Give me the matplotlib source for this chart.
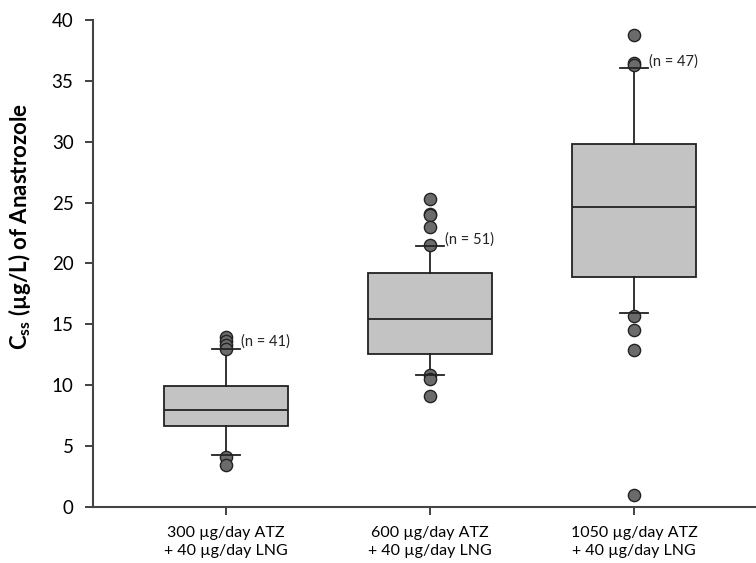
import matplotlib.pyplot as plt

plt.rcParams['font.family'] = ['Lato', 'DejaVu Sans']
plt.rcParams['mathtext.default'] = 'regular'

# 数据
groups = ["300 µg/day ATZ\n+ 40 µg/day LNG",
          "600 µg/day ATZ\n+ 40 µg/day LNG",
          "1050 µg/day ATZ\n+ 40 µg/day LNG"]
n_labels = ["(n = 41)", "(n = 51)", "(n = 47)"]
n_label_y = [13.6, 22.0, 36.6]
q1 = [6.65, 12.55, 18.9]
med = [7.97, 15.4, 24.6]
q3 = [9.94, 19.2, 29.8]
whis_lo = [4.27, 10.8, 15.9]
whis_hi = [12.95, 21.4, 36.05]
fliers = [[13.96, 13.6, 13.3, 13.0, 4.1, 3.45],
          [25.3, 24.1, 24.0, 23.0, 21.5, 10.85, 10.5, 9.1],
          [38.8, 36.5, 36.3, 15.7, 14.5, 12.9, 1.0]]

stats = []
for i in range(3):
    stats.append(dict(q1=q1[i], med=med[i], q3=q3[i], whislo=whis_lo[i],
                      whishi=whis_hi[i], fliers=fliers[i]))

fig = plt.figure(figsize=(7.56, 5.63), dpi=100)
ax = fig.add_axes([0.123, 0.0995, 0.877, 0.865])

ax.bxp(stats, positions=[1, 2, 3], widths=0.603, patch_artist=True,
       showcaps=True, capwidths=0.137,
       boxprops=dict(facecolor='#c3c3c3', edgecolor='#222222', linewidth=1.3),
       medianprops=dict(color='#222222', linewidth=1.3),
       whiskerprops=dict(color='#222222', linewidth=1.3),
       capprops=dict(color='#222222', linewidth=1.3, zorder=4),
       flierprops=dict(marker='o', markersize=8.8, markerfacecolor='#6b6b6b',
                       markeredgecolor='#222222', markeredgewidth=1.0))

# n 标注
for i in range(3):
    ax.text(i + 1 + 0.074, n_label_y[i], n_labels[i], fontsize=10.5,
            ha='left', va='center', color='#222222')

ax.set_xlim(0.348, 3.598)
ax.set_ylim(0, 40)
ax.set_xticks([1, 2, 3])
ax.set_xticklabels(groups, fontsize=11.5, linespacing=1.3)
ax.set_yticks(range(0, 41, 5))
ax.tick_params(axis='y', labelsize=13.5, length=6, width=1.3, color='#333333', pad=8)
ax.tick_params(axis='x', length=6, width=1.3, color='#333333', pad=8)
ax.set_ylabel("C$_{ss}$ (µg/L) of Anastrozole", fontsize=16, fontweight='bold')
ax.yaxis.set_label_coords(-0.09, 0.575)

for s in ['top', 'right']:
    ax.spines[s].set_visible(False)
for s in ['left', 'bottom']:
    ax.spines[s].set_linewidth(1.5)
    ax.spines[s].set_color('#444444')

plt.savefig("out.png", dpi=100)
